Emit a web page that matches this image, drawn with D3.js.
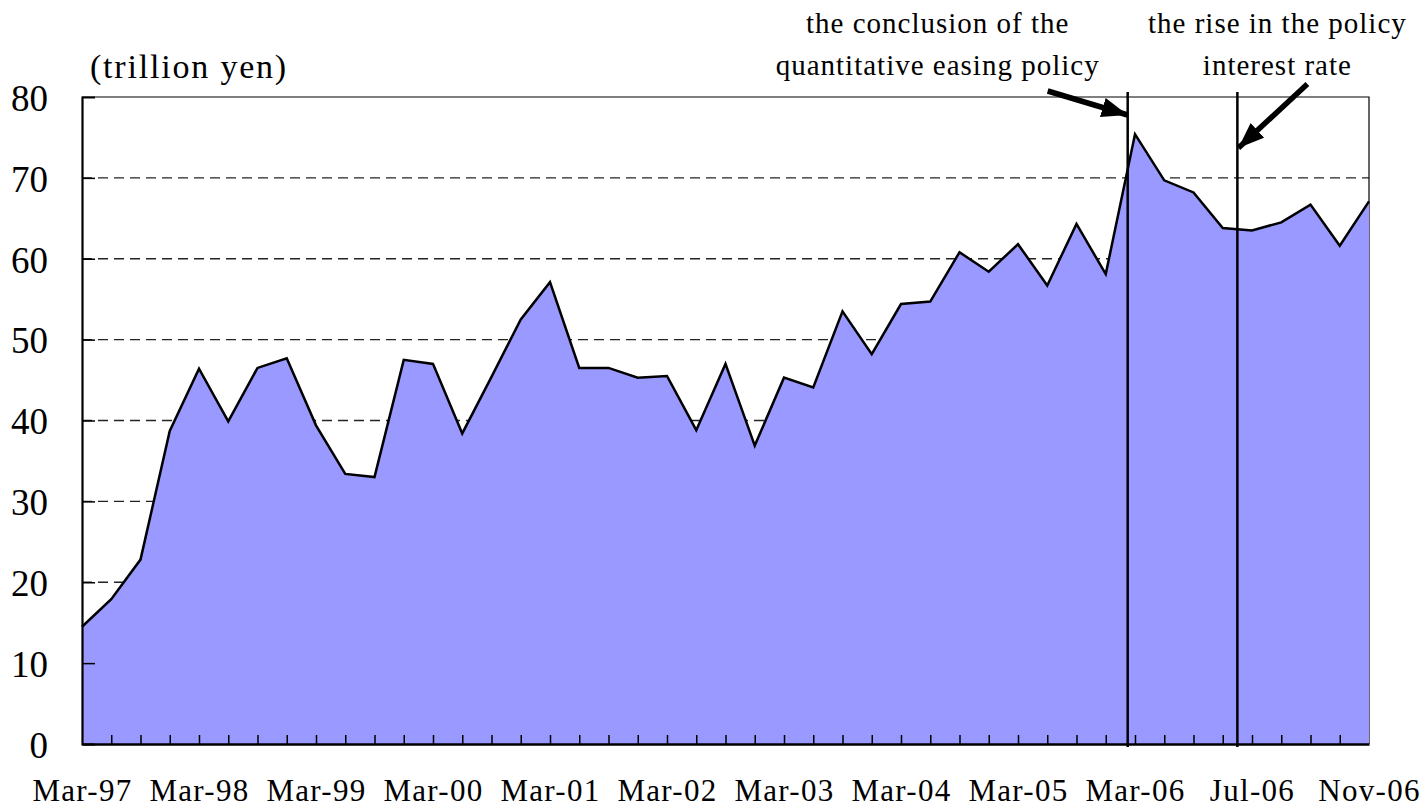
<!DOCTYPE html>
<html>
<head>
<meta charset="utf-8">
<script src="https://cdn.jsdelivr.net/npm/d3@7"></script>
<style>
  body { margin: 0; background: #fff; }
  svg text { font-family: "Liberation Serif", "Times New Roman", serif; fill: #000; }
</style>
</head>
<body>
<svg></svg>
<script>
// categories: quarterly to Mar-06, then monthly
var periods = ["Mar-97","Jun-97","Sep-97","Dec-97","Mar-98","Jun-98","Sep-98","Dec-98",
  "Mar-99","Jun-99","Sep-99","Dec-99","Mar-00","Jun-00","Sep-00","Dec-00",
  "Mar-01","Jun-01","Sep-01","Dec-01","Mar-02","Jun-02","Sep-02","Dec-02",
  "Mar-03","Jun-03","Sep-03","Dec-03","Mar-04","Jun-04","Sep-04","Dec-04",
  "Mar-05","Jun-05","Sep-05","Dec-05","Mar-06",
  "Apr-06","May-06","Jun-06","Jul-06","Aug-06","Sep-06","Oct-06","Nov-06"];

// trillion yen
var amounts = [14.5,17.9,22.8,38.7,46.4,39.9,46.5,47.7,39.4,33.4,
  33.0,47.5,47.0,38.4,45.4,52.5,57.1,46.5,46.5,45.3,
  45.5,38.8,47.0,36.9,45.3,44.1,53.5,48.2,54.4,54.7,
  60.8,58.4,61.8,56.7,64.3,58.1,75.4,69.7,68.2,63.8,
  63.5,64.5,66.7,61.6,67.1];

var xLabels = ["Mar-97","Mar-98","Mar-99","Mar-00","Mar-01","Mar-02","Mar-03","Mar-04","Mar-05","Mar-06","Jul-06","Nov-06"];
var yTicks = [0,10,20,30,40,50,60,70,80];

// policy events: position given as fractional category index
var eventPos = [35.75, 39.5];
var eventText = [["the conclusion of the","quantitative easing policy"],
                 ["the rise in the policy","interest rate"]];

var margin = {top: 97, right: 58, bottom: 64, left: 82},
    width = 1427 - margin.left - margin.right,
    height = 808 - margin.top - margin.bottom;

var svg = d3.select("svg")
  .attr("width", 1427)
  .attr("height", 808);

var g = svg.append("g")
  .attr("transform", "translate(" + margin.left + "," + margin.top + ")");

var x = d3.scalePoint().domain(periods).range([0, width]);
var y = d3.scaleLinear().domain([0, 80]).range([height, 0]);

function xAt(p) {
  var i = Math.floor(p);
  return x(periods[i]) + (p - i) * x.step();
}

// dashed gridlines (behind the area)
g.append("g")
  .selectAll("line")
  .data(yTicks.filter(function(d) { return d > 0 && d < 80; }))
  .enter().append("line")
  .attr("x1", 0).attr("x2", width)
  .attr("y1", function(d) { return y(d); })
  .attr("y2", function(d) { return y(d); })
  .attr("stroke", "#222")
  .attr("stroke-width", 1.3)
  .attr("stroke-dasharray", "10,6");

// frame top/right
g.append("path")
  .attr("d", "M0," + y(80) + "H" + width + "V" + height)
  .attr("fill", "none")
  .attr("stroke", "#000")
  .attr("stroke-width", 1.2);

// area
var area = d3.area()
  .x(function(d, i) { return x(periods[i]); })
  .y0(height)
  .y1(function(d) { return y(d); });

g.append("path")
  .datum(amounts)
  .attr("d", area)
  .attr("fill", "#9999ff");

var line = d3.line()
  .x(function(d, i) { return x(periods[i]); })
  .y(function(d) { return y(d); });

g.append("path")
  .datum(amounts)
  .attr("d", line)
  .attr("fill", "none")
  .attr("stroke", "#000")
  .attr("stroke-width", 2.5)
  .attr("stroke-linejoin", "miter");

// y axis
var yAxis = g.append("g")
  .call(d3.axisLeft(y).tickValues(yTicks).tickSize(-13).tickPadding(34));
yAxis.select(".domain").attr("stroke-width", 2.2);
yAxis.selectAll(".tick line").attr("stroke-width", 1.5);
yAxis.selectAll(".tick text")
  .style("font-family", "Liberation Serif")
  .style("font-size", "37px")
  .attr("dy", "0.36em");
yAxis.selectAll(".tick").filter(function(d) { return d == 0 || d == 80; })
  .select("line").remove();

// x axis
var xAxis = g.append("g")
  .attr("transform", "translate(0," + height + ")")
  .call(d3.axisBottom(x).tickSize(-9).tickSizeOuter(0).tickPadding(35)
    .tickFormat(function(d) { return xLabels.indexOf(d) >= 0 ? d : ""; }));
xAxis.select(".domain").attr("stroke-width", 2.5);
xAxis.selectAll(".tick line").attr("stroke-width", 1.5);
xAxis.selectAll(".tick").filter(function(d, i) { return i == 0 || i == periods.length - 1; })
  .select("line").remove();
xAxis.selectAll(".tick text")
  .style("font-family", "Liberation Serif")
  .style("font-size", "31px")
  .style("letter-spacing", "1.3px");

// unit label
svg.append("text")
  .attr("x", 90)
  .attr("y", 78)
  .style("font-size", "34px")
  .style("letter-spacing", "1.8px")
  .text("(trillion yen)");

// event lines
g.append("g")
  .selectAll("line")
  .data(eventPos)
  .enter().append("line")
  .attr("x1", function(d) { return xAt(d); })
  .attr("x2", function(d) { return xAt(d); })
  .attr("y1", y(80) - 5)
  .attr("y2", height + 3)
  .attr("stroke", "#000")
  .attr("stroke-width", 2.5);

// arrows
svg.append("defs").append("marker")
  .attr("id", "head")
  .attr("viewBox", "0 0 26 20")
  .attr("refX", 26).attr("refY", 10)
  .attr("markerWidth", 26).attr("markerHeight", 20)
  .attr("markerUnits", "userSpaceOnUse")
  .attr("orient", "auto")
  .append("path")
  .attr("d", "M0,0L26,10L0,20Z")
  .attr("fill", "#000");

var arrows = [
  {x1: xAt(eventPos[0]) - 80, y1: 91, x2: xAt(eventPos[0]), y2: 115},
  {x1: xAt(eventPos[1]) + 70, y1: 84, x2: xAt(eventPos[1]) + 1, y2: 148}
];

g.append("g")
  .selectAll("line")
  .data(arrows)
  .enter().append("line")
  .attr("x1", function(d) { return d.x1; })
  .attr("y1", function(d) { return d.y1 - margin.top; })
  .attr("x2", function(d) { return d.x2; })
  .attr("y2", function(d) { return d.y2 - margin.top; })
  .attr("stroke", "#000")
  .attr("stroke-width", 5.5)
  .attr("marker-end", "url(#head)");

// event captions
var capX = [xAt(eventPos[0]) - 190, xAt(eventPos[1]) + 40];
eventText.forEach(function(lines, k) {
  lines.forEach(function(t, j) {
    g.append("text")
      .attr("x", capX[k])
      .attr("y", 33 + j * 42 - margin.top)
      .attr("text-anchor", "middle")
      .style("font-size", "29px")
      .style("letter-spacing", "1px")
      .text(t);
  });
});
</script>
</body>
</html>
